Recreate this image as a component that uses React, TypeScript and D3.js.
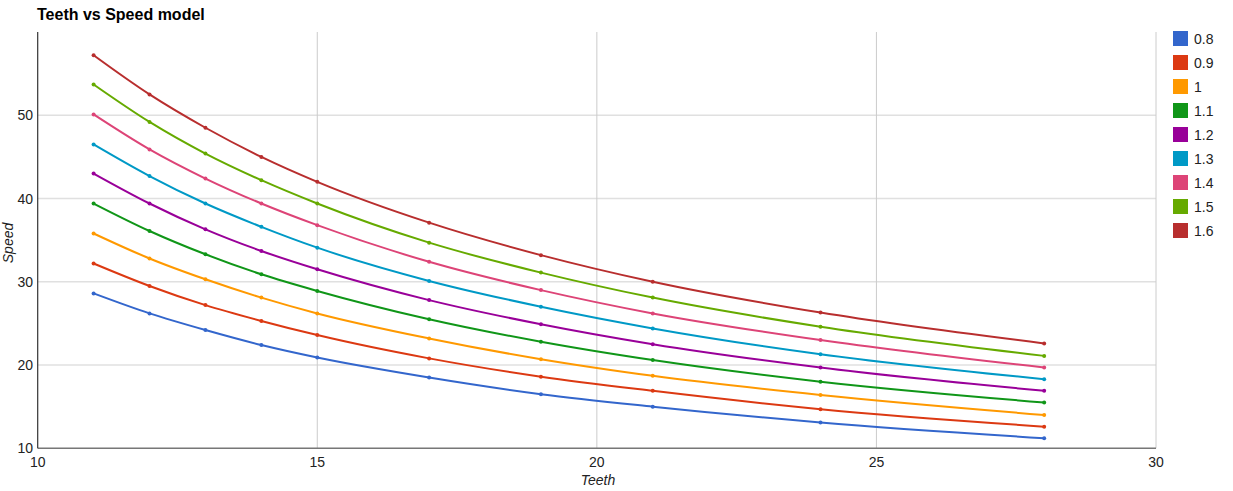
import {useEffect, useRef} from "react";
import * as d3 from "d3";

const SvgWidth = 1233;
const SvgHeight = 491;

// teeth counts along x
const teeth = [11, 12, 13, 14, 15, 17, 19, 21, 24, 28];

// series names (legend labels)
const seriesNames = ["0.8", "0.9", "1", "1.1", "1.2", "1.3", "1.4", "1.5", "1.6"];

// speeds, one array per series
const speed08 = [28.6, 26.2, 24.2, 22.4, 20.9, 18.5, 16.5, 15.0, 13.1, 11.2];
const speed09 = [32.2, 29.5, 27.2, 25.3, 23.6, 20.8, 18.6, 16.9, 14.7, 12.6];
const speed10 = [35.8, 32.8, 30.3, 28.1, 26.2, 23.2, 20.7, 18.7, 16.4, 14.0];
const speed11 = [39.4, 36.1, 33.3, 30.9, 28.9, 25.5, 22.8, 20.6, 18.0, 15.5];
const speed12 = [43.0, 39.4, 36.3, 33.7, 31.5, 27.8, 24.9, 22.5, 19.7, 16.9];
const speed13 = [46.5, 42.7, 39.4, 36.6, 34.1, 30.1, 27.0, 24.4, 21.3, 18.3];
const speed14 = [50.1, 45.9, 42.4, 39.4, 36.8, 32.4, 29.0, 26.2, 23.0, 19.7];
const speed15 = [53.7, 49.2, 45.4, 42.2, 39.4, 34.7, 31.1, 28.1, 24.6, 21.1];
const speed16 = [57.2, 52.5, 48.5, 45.0, 42.0, 37.1, 33.2, 30.0, 26.3, 22.6];

const allSpeeds = [speed08, speed09, speed10, speed11, speed12, speed13, speed14, speed15, speed16];

const xTicks = [10, 15, 20, 25, 30];
const yTicks = [10, 20, 30, 40, 50];

const colors = ["#3366cc", "#dc3912", "#ff9900", "#109618", "#990099", "#0099c6", "#dd4477", "#66aa00", "#b82e2e"];

const font = "Arial, 'Liberation Sans', sans-serif";

function TeethSpeedChart() {
    const linesRef = useRef(null);

    const left = 37.7;
    const right = 1156;
    const top = 32;
    const bottom = 448.3;

    const xScale = d3.scaleLinear().domain([10, 30]).range([left, right]);
    const yScale = d3.scaleLinear().domain([10, 60]).range([bottom, top]);

    useEffect(() => {
        let g = d3.select(linesRef.current);
        g.selectAll("*").remove();

        const line = d3.line()
            // @ts-ignore
            .x(function(d) { return xScale(d[0]) })
            // @ts-ignore
            .y(function(d) { return yScale(d[1]) })
            .curve(d3.curveMonotoneX);

        allSpeeds.forEach((vals, si) => {
            const pts = teeth.map((t, i) => [t, vals[i]]);
            g.append("path")
                .datum(pts)
                .attr("fill", "none")
                .attr("stroke", colors[si])
                .attr("stroke-width", 2)
                // @ts-ignore
                .attr("d", line);
            g.selectAll(".pt" + si)
                .data(pts)
                .enter()
                .append("circle")
                .attr("cx", d => xScale(d[0]))
                .attr("cy", d => yScale(d[1]))
                .attr("r", 2)
                .attr("fill", colors[si]);
        });
    }, []);

    return (
        <svg width={SvgWidth} height={SvgHeight}
             style={{position: "absolute", left: 0, top: 0, display: "block", background: "#fff"}}
             fontFamily={font}>
            <text x={37} y={20} fontSize={16} fontWeight="bold" fill="#000">Teeth vs Speed model</text>

            {/* horizontal gridlines */}
            {yTicks.filter(v => v > 10).map(v => (
                <line key={"hy" + v} x1={left} x2={right} y1={yScale(v)} y2={yScale(v)}
                      stroke="#e0e0e0" strokeWidth={1.5}/>
            ))}
            {/* vertical gridlines */}
            {xTicks.filter(v => v > 10).map(v => (
                <line key={"vx" + v} x1={xScale(v)} x2={xScale(v)} y1={top} y2={bottom}
                      stroke="#cccccc" strokeWidth={1}/>
            ))}

            <g ref={linesRef}></g>

            {/* axes */}
            <line x1={left} x2={right} y1={bottom} y2={bottom} stroke="#777" strokeWidth={1.5}/>
            <line x1={left} x2={left} y1={top} y2={bottom} stroke="#333" strokeWidth={1.2}/>

            {yTicks.map(v => (
                <text key={"yl" + v} x={33} y={yScale(v) + 5} fontSize={14} textAnchor="end" fill="#222">{v}</text>
            ))}
            {xTicks.map(v => (
                <text key={"xl" + v} x={xScale(v)} y={466.5} fontSize={14} textAnchor="middle" fill="#222">{v}</text>
            ))}

            <text x={598} y={485} fontSize={14} fontStyle="italic" textAnchor="middle" fill="#222">Teeth</text>
            <text transform={`translate(13, 243) rotate(-90)`} fontSize={14} fontStyle="italic" textAnchor="middle" fill="#222">Speed</text>

            {/* legend */}
            {seriesNames.map((name, i) => (
                <g key={"lg" + name} transform={`translate(1173, ${31 + i * 24})`}>
                    <rect x={0} y={0} width={15} height={15} fill={colors[i]}/>
                    <text x={21} y={13} fontSize={14} fill="#222">{name}</text>
                </g>
            ))}
        </svg>
    );
}

export default function App() {
    return <TeethSpeedChart/>;
}
